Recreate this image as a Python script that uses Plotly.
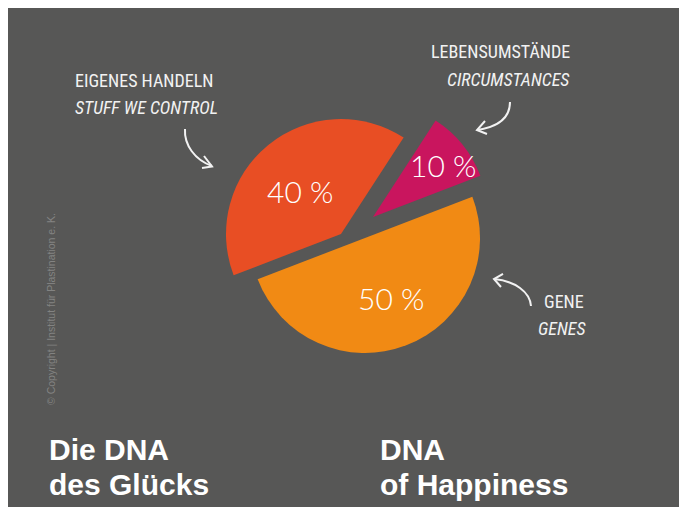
import plotly.graph_objects as go

# ---------------- data ----------------
labels = ["Lebensumstände", "Gene", "Eigenes Handeln"]
values = [10, 50, 40]
slice_colors = ["#C9155E", "#F18A14", "#E84E24"]

label_de = ["LEBENSUMSTÄNDE", "GENE", "EIGENES HANDELN"]
label_en = ["CIRCUMSTANCES", "GENES", "STUFF WE CONTROL"]

title_de = ["Die DNA", "des Glücks"]
title_en = ["DNA", "of Happiness"]
copyright_text = "© Copyright | Institut für Plastination e. K."

# ---------------- layout helpers ----------------
W, H = 687, 507
OX, OY = 8, 8          # page body margin (screen offset of the figure)
BG = "#575756"
INK = "#F2F2F2"


def px(x):
    return (x - OX) / W


def py(y):
    return 1 - (y - OY) / H


# apex (screen pixel) of each exploded slice and common radius
slice_apex = [(373, 217), (365, 238), (341, 234)]
R = 115
# where the percentage label of each slice sits (screen pixel)
value_label_pos = [(443, 165), (391, 298), (300, 191)]

fig = go.Figure()
for k in range(len(values)):
    cx, cy = slice_apex[k]
    colors = [slice_colors[i] if i == k else "rgba(0,0,0,0)" for i in range(len(values))]
    fig.add_trace(go.Pie(
        labels=labels,
        values=values,
        sort=False,
        direction="clockwise",
        rotation=33,
        marker=dict(colors=colors, line=dict(width=0)),
        textinfo="none",
        hoverinfo="skip",
        showlegend=False,
        domain=dict(x=[px(cx - R), px(cx + R)], y=[py(cy + R), py(cy - R)]),
    ))

hand = "Liberation Sans Narrow, Roboto Condensed, DejaVu Sans Condensed, sans-serif"
annotations = []


def add_text(text, x, y, xanchor, size, italic=False, family=hand, color=INK, weight=None, angle=0):
    f = dict(family=family, size=size, color=color)
    if italic:
        f["style"] = "italic"
    if weight:
        f["weight"] = weight
    annotations.append(dict(text=text, x=px(x), y=py(y), xref="paper", yref="paper",
                            xanchor=xanchor, yanchor="middle", showarrow=False,
                            font=f, textangle=angle))


# percentage labels of the slices
for k, v in enumerate(values):
    lx, ly = value_label_pos[k]
    add_text(f"{v} %", lx, ly, "center", 30, family="Lato, Roboto, sans-serif",
             color="white", weight=300)

# handwritten labels
add_text(label_de[2], 73, 80, "left", 18)
add_text(label_en[2], 73, 107, "left", 18, italic=True)
add_text(label_de[0], 500, 51.5, "center", 18)
add_text(label_en[0], 508, 79.5, "center", 18, italic=True)
add_text(label_de[1], 564, 301.5, "center", 18)
add_text(label_en[1], 562, 328.5, "center", 18, italic=True)

# copyright
add_text(copyright_text, 51, 309, "center", 10.5, family="Liberation Sans, Arial, sans-serif",
         color="#838382", angle=-90)

# titles
tf = "Liberation Sans, Arial, Helvetica, sans-serif"
add_text(title_de[0], 47, 449, "left", 30, family=tf, color="white", weight="bold")
add_text(title_de[1], 47, 484.5, "left", 30, family=tf, color="white", weight="bold")
add_text(title_en[0], 378, 449, "left", 30, family=tf, color="white", weight="bold")
add_text(title_en[1], 378, 484.5, "left", 30, family=tf, color="white", weight="bold")


def path(cmds):
    out = []
    for c in cmds:
        if isinstance(c, str):
            out.append(c)
        else:
            out.append(f"{px(c[0]):.5f},{py(c[1]):.5f}")
    return " ".join(out)


arrow_paths = [
    ["M", (185, 129), "C", (184, 145), (195, 160), (212, 166)],
    ["M", (204, 156), "L", (212, 166.5), "L", (202, 168)],
    ["M", (510, 102), "C", (510, 118), (497, 127), (477, 130)],
    ["M", (485, 121), "L", (477, 130), "L", (487, 134)],
    ["M", (531, 306), "C", (530, 292), (515, 281), (494, 279)],
    ["M", (503, 274), "L", (494, 279), "L", (501, 287)],
]

shapes = []
for p in arrow_paths:
    shapes.append(dict(type="path", xref="paper", yref="paper", path=path(p),
                       line=dict(color=INK, width=2)))

fig.update_layout(
    width=W, height=H,
    margin=dict(l=0, r=0, t=0, b=0),
    paper_bgcolor=BG,
    plot_bgcolor=BG,
    annotations=annotations,
    shapes=shapes,
    showlegend=False,
)

fig.write_html("out.html")
